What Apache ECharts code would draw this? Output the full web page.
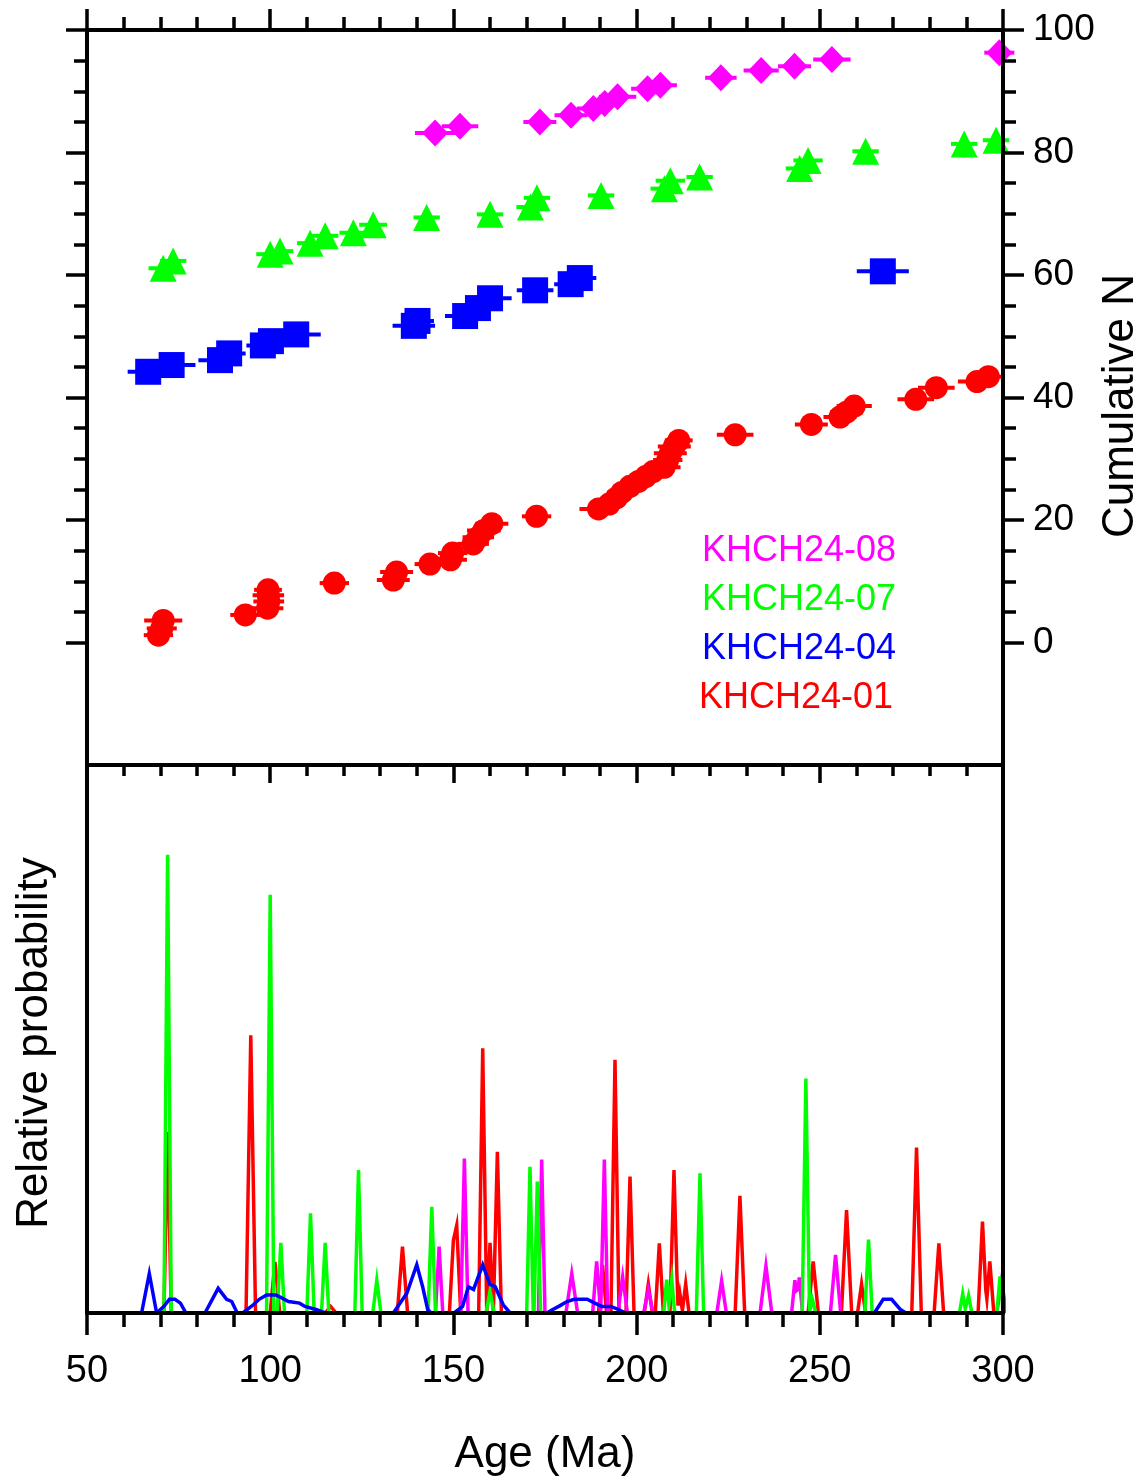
<!DOCTYPE html>
<html>
<head>
<meta charset="utf-8">
<script src="https://cdn.jsdelivr.net/npm/echarts@6/dist/echarts.min.js"></script>
<style>
html,body{margin:0;padding:0;background:#fff;}
#chart{width:1144px;height:1479px;}
</style>
</head>
<body>
<div id="chart"></div>
<script>
// ---------- DATA ----------
const sampleNames = ['KHCH24-01', 'KHCH24-04', 'KHCH24-07', 'KHCH24-08'];
const sampleColors = ['#ff0000', '#0000ff', '#00ff00', '#ff00ff'];

// Cumulative plot: [age (Ma), cumulative N, ± error (Ma)]
const pts01 = [
  [69.5,1.2,4.0],[70.4,2.3,4.1],[70.8,3.6,5.2],[93.2,4.5,4.1],[99.3,5.6,4.3],[99.6,6.7,4.2],
  [99.5,7.7,4.3],[99.4,8.6,3.8],[117.5,9.7,4.0],[133.6,10.2,4.5],[134.5,11.5,4.5],[143.6,12.8,4.2],
  [149.2,13.5,4.5],[149.8,14.6,4.0],[155.4,16.1,4.3],[156.8,17.2,4.3],[158.3,18.3,4.6],[160.5,19.4,4.5],
  [172.7,20.6,4.0],[189.6,21.8,5.2],[192.5,22.6,4.3],[194.5,23.6,4.0],[196.0,24.5,4.0],[198.2,25.5,4.0],
  [200.5,26.3,4.0],[202.5,27.1,4.0],[204.5,27.9,4.0],[207.5,28.6,4.5],[208.5,29.8,4.0],[209.2,30.9,4.5],
  [210.3,32.0,4.5],[211.5,33.0,3.8],[226.9,33.9,5.0],[247.7,35.6,4.5],[255.5,36.8,4.5],[257.3,37.6,4.5],
  [259.4,38.6,4.8],[276.2,39.7,5.0],[281.8,41.6,5.0],[292.9,42.6,5.2],[296.0,43.4,4.5]
];
const pts04 = [
  [66.7,44.2,5.6],[73.1,45.3,6.5],[86.3,46.1,5.9],[88.8,47.2,4.5],[98.0,48.5,4.5],[100.2,49.2,4.5],
  [107.1,50.3,6.7],[139.2,51.7,5.8],[140.2,52.5,4.5],[153.2,53.3,5.5],[156.7,54.6,4.5],[160.0,56.2,5.9],
  [172.3,57.5,5.0],[182.0,58.5,4.5],[184.5,59.5,4.5],[267.2,60.6,7.1]
];
const pts07 = [
  [70.8,61.1,4.0],[73.5,62.3,3.6],[100.0,63.4,3.8],[102.7,63.9,3.6],[110.9,65.2,3.6],[115.0,66.4,3.6],
  [122.7,66.9,3.8],[128.1,68.2,3.8],[142.7,69.4,3.6],[160.0,69.9,3.6],[171.0,71.1,3.8],[172.8,72.6,3.6],
  [190.3,73.0,3.6],[207.6,74.1,3.8],[209.2,75.4,4.0],[217.2,76.0,3.6],[244.5,77.4,3.8],[246.8,78.7,4.0],
  [262.5,80.2,3.6],[289.4,81.4,3.6],[298.1,82.0,3.6]
];
const pts08 = [
  [145.0,83.2,5.5],[151.8,84.3,5.0],[173.6,85.0,4.5],[182.1,86.1,4.5],[188.2,87.2,4.5],[191.3,88.0,4.5],
  [194.8,89.1,5.1],[203.0,90.4,4.5],[206.5,91.0,4.5],[223.0,92.2,4.3],[234.0,93.4,4.8],[243.1,94.1,4.5],
  [253.3,95.2,5.1],[299.0,96.3,4.1]
];

// Relative probability peaks: [age (Ma), relative height, half-width (Ma)]
const pdp01 = [
  [72.0,0.33,1.0],[94.7,0.507,1.3],[101.3,0.093,1.3],[116.5,0.012,1.5],[136.1,0.121,1.4],
  [150.0,0.133,1.1],[150.9,0.16,1.1],[158.0,0.483,1.1],[160.0,0.128,0.9],[162.0,0.294,1.1],
  [190.7,0.088,1.1],[194.1,0.462,1.1],[198.2,0.249,1.1],[203.2,0.053,1.1],[206.2,0.127,1.1],
  [210.2,0.261,1.1],[211.8,0.036,0.8],[213.4,0.053,0.9],[228.2,0.214,1.3],[248.2,0.094,1.4],
  [257.3,0.188,1.4],[261.4,0.053,1.1],[276.4,0.302,1.3],[282.5,0.127,1.3],[294.4,0.167,1.2],
  [296.4,0.094,1.1]
];
const pdp07 = [
  [72.0,0.836,1.0],[100.0,0.763,1.0],[102.9,0.128,1.0],[111.0,0.182,1.0],[115.0,0.128,1.0],
  [124.1,0.261,1.0],[129.1,0.06,1.1],[144.1,0.194,1.0],[160.0,0.04,1.1],[170.9,0.267,0.9],
  [172.9,0.24,0.9],[208.2,0.061,0.8],[209.6,0.061,0.8],[217.3,0.255,1.0],[246.2,0.428,1.0],
  [248.0,0.024,0.9],[263.3,0.134,1.0],[289.0,0.035,0.9],[290.6,0.032,0.9],[299.2,0.067,0.9]
];
const pdp08 = [
  [146.1,0.121,1.0],[153.0,0.282,1.0],[174.1,0.28,0.9],[182.3,0.072,1.6],[189.1,0.094,1.1],
  [191.2,0.28,0.9],[196.2,0.066,1.3],[203.2,0.042,1.3],[223.2,0.059,1.3],[235.3,0.086,1.6],
  [243.2,0.06,0.9],[244.4,0.065,0.9],[254.3,0.106,1.4],[299.6,0.06,1.3]
];
// KHCH24-04 is a broad low curve: vertices [age (Ma), relative probability]
const pdp04 = [
  [50,0],[64.9,0],[67.0,0.072],[69.0,0],[71.0,0.012],[72.5,0.025],[74.0,0.025],[75.5,0.018],[77.0,0],
  [82.2,0],[85.8,0.045],[88.1,0.025],[89.5,0.021],[91.0,0],[92.5,0],[95.4,0.015],[97.0,0.025],
  [99.0,0.033],[101.5,0.033],[103.0,0.028],[105.0,0.021],[108.0,0.018],[109.5,0.012],[112.7,0.006],
  [115.0,0],[133.6,0],[137.3,0.036],[140.0,0.088],[141.6,0.048],[143.0,0.006],[144.0,0],
  [150.2,0],[152.5,0.012],[154.1,0.048],[155.5,0.043],[158.0,0.088],[160.0,0.052],[161.4,0.048],
  [163.6,0.015],[165.5,0],[175.5,0],[177.0,0.006],[179.0,0.013],[181.0,0.021],[183.0,0.025],
  [186.5,0.025],[188.6,0.018],[190.5,0.012],[193.0,0.012],[195.5,0.005],[197.0,0],
  [264.9,0],[267.3,0.025],[269.6,0.025],[271.9,0.007],[273.5,0],[300,0]
];

// Axis ticks
const ageTicks = {min: 50, max: 300, step: 50};
const cumRange = {min: -20, max: 100};
const cumMajorTicks = [0, 20, 40, 60, 80, 100];
const cumMinorTicks = [5, 10, 15, 25, 30, 35, 45, 50, 55, 65, 70, 75, 85, 90, 95];

// ---------- BUILD ----------
// Break the polyline where it lies on the baseline (hidden under the axis in the reference)
function gapZeros(pts) {
  const out = [];
  for (let i = 0; i < pts.length; i++) {
    if (i > 0 && pts[i][1] === 0 && pts[i - 1][1] === 0) out.push('-');
    out.push(pts[i]);
  }
  return out;
}
function buildCurve(peaks) {
  const f = (x) => {
    let m = 0;
    for (const [a, h, w] of peaks) {
      const d = Math.abs(x - a);
      if (d < w) m = Math.max(m, h * (1 - d / w));
    }
    return m;
  };
  const xs = new Set([ageTicks.min, ageTicks.max]);
  peaks.forEach(([a, h, w]) => { xs.add(a - w); xs.add(a); xs.add(a + w); });
  return [...xs].sort((p, q) => p - q).map(x => [x, f(x)]);
}

const FONT = '"Liberation Sans", Arial, Helvetica, sans-serif';
const black = '#000';
const axisLineStyle = {color: black, width: 4};
const tickStyle = {color: black, width: 3.5};

function errSeries(data, color) {
  return {
    type: 'custom', coordinateSystem: 'cartesian2d', xAxisIndex: 0, yAxisIndex: 0,
    clip: false, silent: true, z: 2,
    data: data,
    encode: {x: 0, y: 1},
    renderItem: function (params, api) {
      const a = api.value(0), n = api.value(1), e = api.value(2);
      const p1 = api.coord([a - e, n]), p2 = api.coord([a + e, n]);
      return {type: 'line', shape: {x1: p1[0], y1: p1[1], x2: p2[0], y2: p2[1]},
              style: {stroke: color, lineWidth: 4}};
    }
  };
}
function ptSeries(data, color, symbol, size, name) {
  return {
    type: 'scatter', name: name, xAxisIndex: 0, yAxisIndex: 0, clip: false, silent: true, z: 3,
    data: data.map(d => [d[0], d[1]]), symbol: symbol, symbolSize: size,
    itemStyle: {color: color, opacity: 1}
  };
}
function pdpSeries(data, color, name) {
  return {
    type: 'line', name: name, xAxisIndex: 2, yAxisIndex: 4, data: gapZeros(data), showSymbol: false,
    symbol: 'none', silent: true, animation: false, z: 2, connectNulls: false,
    lineStyle: {color: color, width: 3.5, join: 'miter'}
  };
}
function cumAxis(position, values, len, showLine, withLabels) {
  return {
    gridIndex: 0, type: 'value', position: position, min: cumRange.min, max: cumRange.max, interval: 20, z: 5,
    axisLine: {show: showLine, onZero: false, lineStyle: axisLineStyle},
    axisTick: {show: true, inside: false, length: len, lineStyle: tickStyle, customValues: values},
    axisLabel: withLabels
      ? {show: true, margin: 30, color: black, fontSize: 37, fontFamily: FONT, customValues: values}
      : {show: false},
    splitLine: {show: false}
  };
}

const chart = echarts.init(document.getElementById('chart'), null, {renderer: 'canvas'});

const option = {
  animation: false,
  backgroundColor: '#fff',
  textStyle: {fontFamily: FONT},
  grid: [
    {left: 87, right: 141, top: 30, height: 735},
    {left: 87, right: 141, top: 765, height: 548}
  ],
  xAxis: [
    { gridIndex: 0, type: 'value', position: 'top', min: ageTicks.min, max: ageTicks.max, interval: ageTicks.step, z: 5,
      axisLine: {show: true, onZero: false, lineStyle: axisLineStyle},
      axisTick: {show: true, inside: false, length: 21, lineStyle: tickStyle},
      minorTick: {show: true, splitNumber: 5, length: 13, lineStyle: tickStyle},
      axisLabel: {show: false}, splitLine: {show: false}, minorSplitLine: {show: false} },
    { gridIndex: 1, type: 'value', position: 'top', min: ageTicks.min, max: ageTicks.max, interval: ageTicks.step, z: 5,
      axisLine: {show: true, onZero: false, lineStyle: axisLineStyle},
      axisTick: {show: true, inside: true, length: 18, lineStyle: tickStyle},
      minorTick: {show: true, splitNumber: 5, length: 11, lineStyle: tickStyle},
      axisLabel: {show: false}, splitLine: {show: false} },
    { gridIndex: 1, type: 'value', position: 'bottom', min: ageTicks.min, max: ageTicks.max, interval: ageTicks.step, z: 5,
      axisLine: {show: true, onZero: false, lineStyle: axisLineStyle},
      axisTick: {show: true, inside: false, length: 22, lineStyle: tickStyle},
      minorTick: {show: true, splitNumber: 5, length: 14, lineStyle: tickStyle},
      axisLabel: {show: true, margin: 40, color: black, fontSize: 38, fontFamily: FONT},
      splitLine: {show: false},
      name: 'Age (Ma)', nameLocation: 'middle', nameGap: 120,
      nameTextStyle: {color: black, fontSize: 44, fontFamily: FONT} }
  ],
  yAxis: [
    cumAxis('left', cumMajorTicks, 21, true, false),
    Object.assign(cumAxis('left', cumMinorTicks, 13, false, false), {offset: 0}),
    cumAxis('right', cumMajorTicks, 21, true, true),
    Object.assign(cumAxis('right', cumMinorTicks, 13, false, false), {offset: 0}),
    { gridIndex: 1, type: 'value', position: 'left', min: 0, max: 1, z: 5,
      axisLine: {show: true, onZero: false, lineStyle: axisLineStyle},
      axisTick: {show: false}, axisLabel: {show: false}, splitLine: {show: false} },
    { gridIndex: 1, type: 'value', position: 'right', min: 0, max: 1, z: 5,
      axisLine: {show: true, onZero: false, lineStyle: axisLineStyle},
      axisTick: {show: false}, axisLabel: {show: false}, splitLine: {show: false} }
  ],
  series: [
    errSeries(pts01, sampleColors[0]), ptSeries(pts01, sampleColors[0], 'circle', 23, sampleNames[0]),
    errSeries(pts04, sampleColors[1]), ptSeries(pts04, sampleColors[1], 'rect', 26, sampleNames[1]),
    errSeries(pts07, sampleColors[2]), ptSeries(pts07, sampleColors[2], 'triangle', 27, sampleNames[2]),
    errSeries(pts08, sampleColors[3]), ptSeries(pts08, sampleColors[3], 'diamond', [26, 27], sampleNames[3]),
    pdpSeries(buildCurve(pdp01), sampleColors[0], sampleNames[0] + ' PDP'),
    pdpSeries(buildCurve(pdp08), sampleColors[3], sampleNames[3] + ' PDP'),
    pdpSeries(buildCurve(pdp07), sampleColors[2], sampleNames[2] + ' PDP'),
    pdpSeries(pdp04, sampleColors[1], sampleNames[1] + ' PDP')
  ],
  graphic: [
    {type: 'text', x: 702, y: 551, style: {text: sampleNames[3], fill: sampleColors[3], font: '36px ' + FONT, align: 'left', verticalAlign: 'middle', textAlign: 'left', textVerticalAlign: 'middle'}},
    {type: 'text', x: 702, y: 600, style: {text: sampleNames[2], fill: sampleColors[2], font: '36px ' + FONT, align: 'left', verticalAlign: 'middle', textAlign: 'left', textVerticalAlign: 'middle'}},
    {type: 'text', x: 702, y: 649, style: {text: sampleNames[1], fill: sampleColors[1], font: '36px ' + FONT, align: 'left', verticalAlign: 'middle', textAlign: 'left', textVerticalAlign: 'middle'}},
    {type: 'text', x: 699, y: 698, style: {text: sampleNames[0], fill: sampleColors[0], font: '36px ' + FONT, align: 'left', verticalAlign: 'middle', textAlign: 'left', textVerticalAlign: 'middle'}},
    {type: 'text', x: 1121, y: 406, rotation: Math.PI / 2, style: {text: 'Cumulative N', fill: black, font: '44px ' + FONT, align: 'center', verticalAlign: 'middle', textAlign: 'center', textVerticalAlign: 'middle'}},
    {type: 'text', x: 35, y: 1043, rotation: Math.PI / 2, style: {text: 'Relative probability', fill: black, font: '44px ' + FONT, align: 'center', verticalAlign: 'middle', textAlign: 'center', textVerticalAlign: 'middle'}}
  ]
};
chart.setOption(option);
</script>
</body>
</html>
